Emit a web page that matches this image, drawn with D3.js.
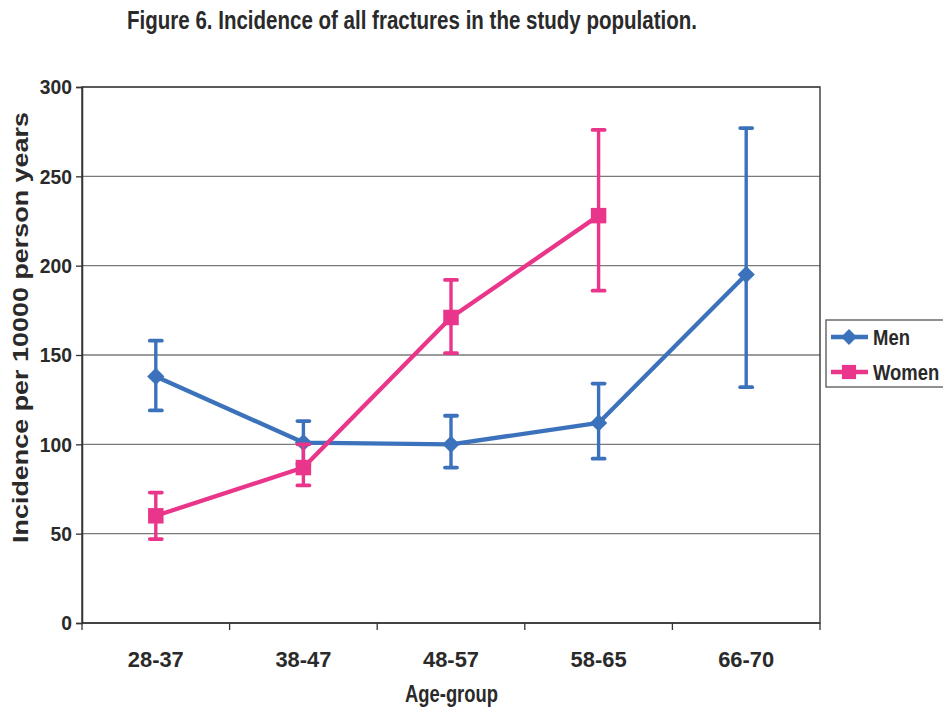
<!DOCTYPE html>
<html>
<head>
<meta charset="utf-8">
<script src="https://cdn.jsdelivr.net/npm/d3@7"></script>
<style>
  html, body { margin: 0; padding: 0; background: #fff; }
  svg { display: block; }
  text { font-family: "Liberation Sans", Arial, sans-serif; fill: #2a2a2a; }
</style>
</head>
<body>
<svg id="chart" width="943" height="712"></svg>
<script>
// Age groups and fracture incidence per 10000 person years (with 95% CI)
const ageGroups = ["28-37", "38-47", "48-57", "58-65", "66-70"];
const menValues = [138, 101, 100, 112, 195];
const menLower  = [119, 89, 87, 92, 132];
const menUpper  = [158, 113, 116, 134, 277];
const womenAgeGroups = ["28-37", "38-47", "48-57", "58-65"];
const womenValues = [60, 87, 171, 228];
const womenLower  = [47, 77, 151, 186];
const womenUpper  = [73, 100, 192, 276];
const yTicks = [0, 50, 100, 150, 200, 250, 300];

const svg = d3.select("#chart");
const plot = { left: 82, right: 820, top: 87, bottom: 623 };

const x = d3.scaleBand().domain(ageGroups).range([plot.left, plot.right]).padding(0);
const y = d3.scaleLinear().domain([0, 300]).range([plot.bottom, plot.top]);
const cx = d => x(d) + x.bandwidth() / 2;

// Title
svg.append("text")
  .attr("x", 127).attr("y", 29)
  .attr("textLength", 570).attr("lengthAdjust", "spacingAndGlyphs")
  .style("font-size", "25px").style("font-weight", "bold")
  .text("Figure 6. Incidence of all fractures in the study population.");

// Horizontal gridlines
svg.append("g").selectAll("line").data(yTicks.filter(t => t > 0)).join("line")
  .attr("x1", plot.left).attr("x2", plot.right)
  .attr("y1", d => y(d)).attr("y2", d => y(d))
  .attr("stroke", "#7a7a7a").attr("stroke-width", 1.3);

// Plot frame
svg.append("rect")
  .attr("x", plot.left).attr("y", plot.top)
  .attr("width", plot.right - plot.left).attr("height", plot.bottom - plot.top)
  .attr("fill", "none").attr("stroke", "#444").attr("stroke-width", 1.5);

// Y axis
const yAxis = svg.append("g")
  .attr("transform", `translate(${plot.left},0)`)
  .call(d3.axisLeft(y).tickValues(yTicks).tickSize(6).tickPadding(4));
yAxis.select(".domain").attr("stroke", "#333").attr("stroke-width", 1.5);
yAxis.selectAll(".tick line").attr("stroke", "#333").attr("stroke-width", 1.3);
yAxis.selectAll(".tick text")
  .style("font-size", "21px").style("font-weight", "bold")
  .style("font-family", "'Liberation Sans', Arial, sans-serif")
  .attr("fill", "#2a2a2a")
  .attr("transform", "scale(0.92,1)")
  .attr("x", -10 / 0.92);

// X axis with boundary ticks between groups
const boundaries = ageGroups.map(d => x(d)).concat([plot.right]);
const xAxisG = svg.append("g");
xAxisG.append("line")
  .attr("x1", plot.left).attr("x2", plot.right)
  .attr("y1", plot.bottom).attr("y2", plot.bottom)
  .attr("stroke", "#333").attr("stroke-width", 1.5);
xAxisG.selectAll("line.tk").data(boundaries).join("line").attr("class", "tk")
  .attr("x1", d => d).attr("x2", d => d)
  .attr("y1", plot.bottom).attr("y2", plot.bottom + 7)
  .attr("stroke", "#333").attr("stroke-width", 1.3);
xAxisG.selectAll("text").data(ageGroups).join("text")
  .attr("x", d => cx(d) - 28).attr("y", 667)
  .attr("textLength", 56).attr("lengthAdjust", "spacingAndGlyphs")
  .style("font-size", "22px").style("font-weight", "bold")
  .text(d => d);

// Axis titles
svg.append("text")
  .attr("x", 405).attr("y", 702)
  .attr("textLength", 93).attr("lengthAdjust", "spacingAndGlyphs")
  .style("font-size", "23px").style("font-weight", "bold")
  .text("Age-group");
svg.append("text")
  .attr("transform", "translate(28,543) rotate(-90)")
  .attr("textLength", 431).attr("lengthAdjust", "spacingAndGlyphs")
  .style("font-size", "22px").style("font-weight", "bold")
  .text("Incidence per 10000 person years");

const menColor = "#3b72bb";
const womenColor = "#e9368a";

function drawSeries(groups, vals, lo, hi, color, shape) {
  const g = svg.append("g");
  // error bars
  groups.forEach((grp, i) => {
    const px = cx(grp);
    g.append("line").attr("x1", px).attr("x2", px)
      .attr("y1", y(lo[i])).attr("y2", y(hi[i]))
      .attr("stroke", color).attr("stroke-width", 3.4);
    [lo[i], hi[i]].forEach(v => {
      g.append("line").attr("x1", px - 6).attr("x2", px + 6)
        .attr("y1", y(v)).attr("y2", y(v))
        .attr("stroke", color).attr("stroke-width", 3.8).attr("stroke-linecap", "round");
    });
  });
  // line
  g.append("path")
    .datum(groups.map((grp, i) => [cx(grp), y(vals[i])]))
    .attr("d", d3.line())
    .attr("fill", "none").attr("stroke", color).attr("stroke-width", 4.3)
    .attr("stroke-linejoin", "round");
  // markers
  const sym = d3.symbol().type(shape === "diamond" ? d3.symbolDiamond2 : d3.symbolSquare)
    .size(shape === "diamond" ? 190 : 240);
  groups.forEach((grp, i) => {
    g.append("path").attr("d", sym())
      .attr("transform", `translate(${cx(grp)},${y(vals[i])})`)
      .attr("fill", color);
  });
}

drawSeries(ageGroups, menValues, menLower, menUpper, menColor, "diamond");
drawSeries(womenAgeGroups, womenValues, womenLower, womenUpper, womenColor, "square");

// Legend
const leg = svg.append("g");
leg.append("rect").attr("x", 826).attr("y", 320).attr("width", 130).attr("height", 67)
  .attr("fill", "#fff").attr("stroke", "#555").attr("stroke-width", 1.3);
const legendItems = [
  { name: "Men", color: menColor, shape: "diamond", yy: 337 },
  { name: "Women", color: womenColor, shape: "square", yy: 372 }
];
legendItems.forEach(it => {
  leg.append("line").attr("x1", 831).attr("x2", 868).attr("y1", it.yy).attr("y2", it.yy)
    .attr("stroke", it.color).attr("stroke-width", 4.3);
  const s = d3.symbol().type(it.shape === "diamond" ? d3.symbolDiamond2 : d3.symbolSquare)
    .size(it.shape === "diamond" ? 160 : 200);
  leg.append("path").attr("d", s()).attr("transform", `translate(849,${it.yy})`).attr("fill", it.color);
  leg.append("text")
    .attr("transform", `translate(873,${it.yy + 8}) scale(0.84,1)`)
    .style("font-size", "22px").style("font-weight", "bold")
    .text(it.name);
});
</script>
</body>
</html>
